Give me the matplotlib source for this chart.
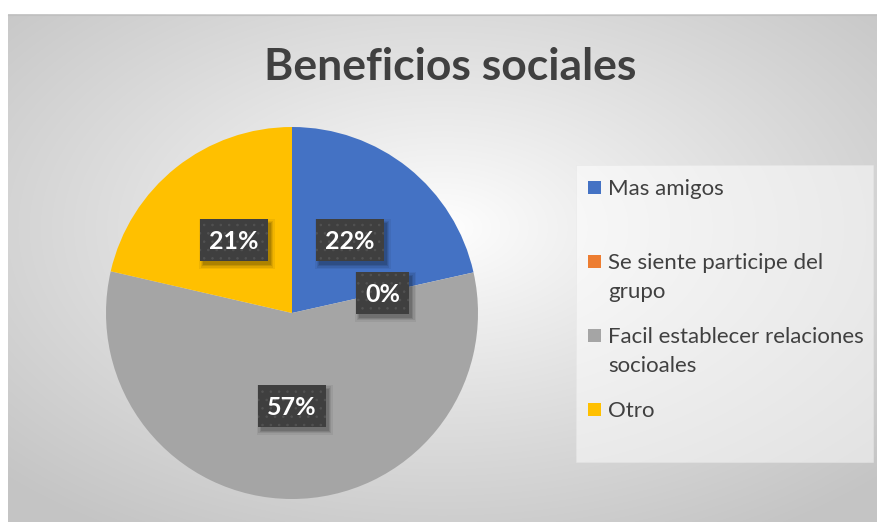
import numpy as np
import matplotlib
matplotlib.use("Agg")
import matplotlib.pyplot as plt
from matplotlib.patches import Rectangle
import textwrap

# ---- data ----
title = "Beneficios sociales"
categories = ["Mas amigos", "Se siente participe del grupo",
              "Facil establecer relaciones socioales", "Otro"]
values = [21.5, 0.0, 57.1, 21.4]
pct_labels = ["22%", "0%", "57%", "21%"]
colors = ["#4472C4", "#ED7D31", "#A5A5A5", "#FFC000"]

plt.rcParams["hatch.linewidth"] = 0.6

W, H = 878, 522
fig = plt.figure(figsize=(W / 100, H / 100), dpi=100)
fig.patch.set_facecolor("white")

# ---- background (radial gradient chart area) ----
bg = fig.add_axes([0, 0, 1, 1])
bg.set_xlim(0, W)
bg.set_ylim(H, 0)
bg.axis("off")
x0, y0, x1, y1 = 8, 14, 877, 522
yy, xx = np.mgrid[y0:y1, x0:x1] + 0.5
cx, cy = (x0 + x1) / 2, (y0 + y1) / 2 - 40
r = np.sqrt(((xx - cx) / ((x1 - x0) / 2)) ** 2 + ((yy - cy) / ((y1 - y0) / 2)) ** 2) / np.sqrt(2)
g = 1 - (1 - 0.77) * np.clip(r, 0, 1) ** 0.9
img = np.dstack([g, g, g])
bg.imshow(img, extent=(x0, x1, y1, y0), interpolation="bilinear", aspect="auto", zorder=0)
bg.plot([x0, x1], [y0 + 0.5, y0 + 0.5], color="#c0c0c0", lw=0.8, zorder=1)

# ---- title ----
bg.text(450, 80, title, ha="center", va="baseline", fontsize=32, fontweight="bold",
        color="#404040", family="Lato", zorder=3)

# ---- legend ----
bg.add_patch(Rectangle((576, 165), 297, 297, fc="white", alpha=0.5, ec="#e6e6e6", lw=0.6, zorder=2))
for i, (cat, col) in enumerate(zip(categories, colors)):
    base = 195 + 74 * i
    bg.add_patch(Rectangle((588, base - 14), 13, 13, fc=col, lw=0, zorder=3))
    for j, line in enumerate(textwrap.wrap(cat, 27)):
        bg.text(608, base + 29 * j, line, ha="left", va="baseline", fontsize=16,
                color="#404040", family="Lato", zorder=3)

# ---- pie ----
cxp, cyp, R = 292, 313, 186
ax = fig.add_axes([(cxp - R) / W, 1 - (cyp + R) / H, 2 * R / W, 2 * R / H])
ax.patch.set_alpha(0)
wedges, _ = ax.pie(values, colors=colors, startangle=90, counterclock=False, radius=1,
                   wedgeprops=dict(linewidth=0))
ax.set_xlim(-1, 1)
ax.set_ylim(-1, 1)

fs = 18
digit_h = 0.72 * fs * 100 / 72  # px
fig.canvas.draw()
renderer = fig.canvas.get_renderer()
for w, lab in zip(wedges, pct_labels):
    ang = np.deg2rad((w.theta1 + w.theta2) / 2)
    lx, ly = 0.5 * np.cos(ang), 0.5 * np.sin(ang)
    t = ax.text(lx, ly - digit_h / 2 / R, lab, ha="center", va="baseline",
                color="white", fontsize=fs, fontweight="bold", family="Lato", zorder=6)
    tw = t.get_window_extent(renderer).width
    bw, bh = (tw + 18) / R, 42 / R
    # soft drop shadow (down-right)
    sx, sy = 3 / R, -4 / R
    for k, a in zip([4, 2.5, 1, 0], [0.06, 0.08, 0.1, 0.12]):
        e = k / R
        ax.add_patch(Rectangle((lx - bw / 2 + sx - e, ly - bh / 2 + sy - e), bw + 2 * e, bh + 2 * e,
                               fc="black", alpha=a, lw=0, zorder=4))
    ax.add_patch(Rectangle((lx - bw / 2, ly - bh / 2), bw, bh, fc="#3f3f3f", ec="#525252",
                           hatch="..", lw=0, zorder=5))

fig.savefig("out.png", dpi=100)
